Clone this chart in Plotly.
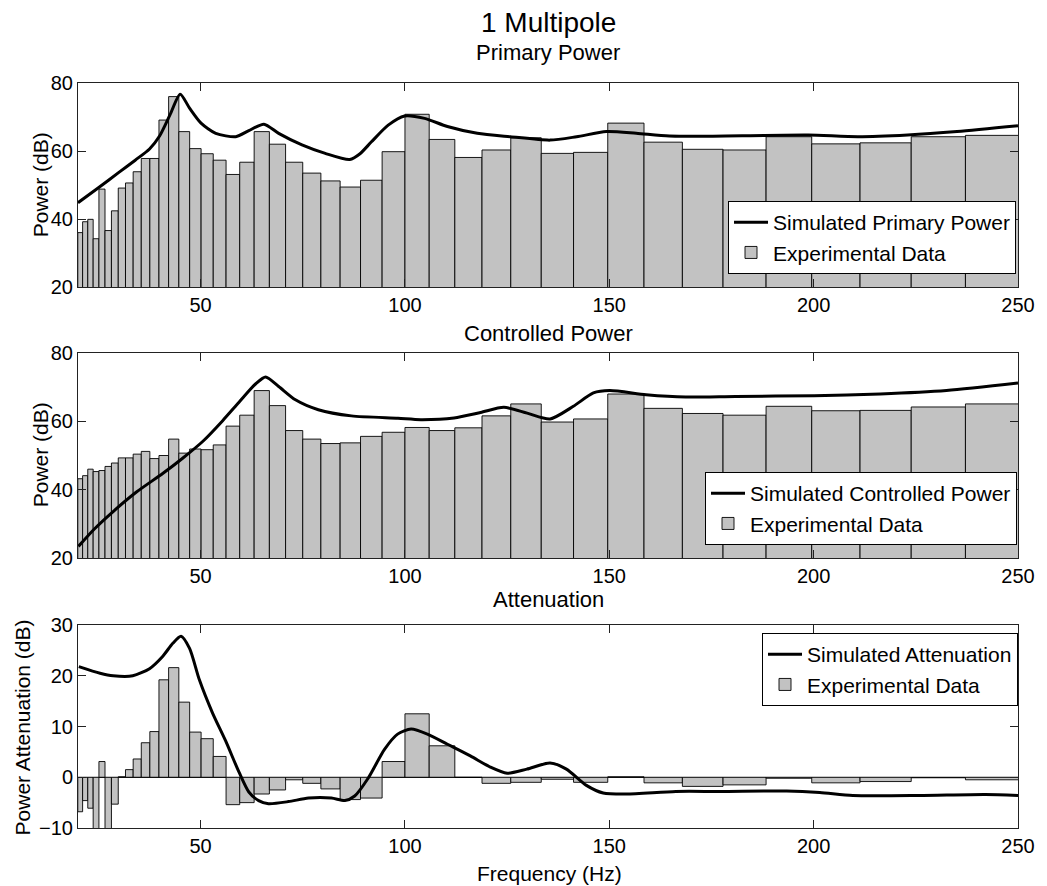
import plotly.graph_objects as go

# 1/12-decade-ish frequency band edges (Hz)
band_edges = [19.95, 21.13, 22.39, 23.71, 25.12, 26.61, 28.18, 29.85, 31.62, 33.50,
              35.48, 37.58, 39.81, 42.17, 44.67, 47.32, 50.12, 53.09, 56.23, 59.57,
              63.10, 66.83, 70.79, 74.99, 79.43, 84.14, 89.13, 94.41, 100.0, 105.93,
              112.20, 118.85, 125.89, 133.35, 141.25, 149.62, 158.49, 167.88, 177.83, 188.36,
              199.53, 211.35, 223.87, 237.14, 251.19]

primary_exp = [36.0, 39.2, 39.9, 34.2, 48.8, 36.6, 42.4, 49.1, 50.6, 53.9,
               57.8, 57.8, 69.1, 76.0, 65.7, 60.7, 59.2, 57.3, 53.1, 56.7,
               65.7, 62.0, 56.7, 53.5, 51.2, 49.4, 51.4, 59.8, 70.8, 63.4,
               58.1, 60.3, 63.9, 59.3, 59.6, 68.2, 62.6, 60.5, 60.3, 64.2,
               62.1, 62.4, 64.2, 64.6]

controlled_exp = [43.2, 44.1, 46.0, 45.3, 45.6, 46.8, 47.8, 49.3, 49.3, 50.4,
                  51.2, 49.1, 50.0, 54.8, 50.7, 51.9, 51.7, 53.1, 58.6, 61.8,
                  69.0, 64.6, 57.3, 54.8, 53.5, 53.7, 55.6, 56.8, 58.2, 57.3,
                  58.1, 61.6, 65.1, 59.8, 60.7, 68.0, 63.8, 62.3, 61.8, 64.4,
                  63.1, 63.2, 64.2, 65.1]

attenuation_exp = [-6.8, -4.6, -6.1, -11.0, 3.1, -10.5, -5.3, 0.1, 1.5, 3.6,
                   6.8, 9.0, 19.2, 21.6, 14.8, 8.9, 7.6, 4.1, -5.4, -5.0,
                   -3.3, -2.5, -0.5, -1.2, -2.3, -4.4, -4.1, 3.1, 12.5, 6.2,
                   0.0, -1.2, -1.0, -0.4, -1.0, 0.1, -1.1, -1.8, -1.5, -0.2,
                   -1.1, -0.85, -0.1, -0.5]

primary_sim_f = [20, 25, 30, 34, 37.5, 40, 42.5, 45, 47.3, 50.1, 53.7, 58.6, 61.8,
                 65.5, 69.1, 74.8, 80.5, 86.5, 89, 91.8, 95.9, 99.9, 104.8, 110.4,
                 117.7, 125.8, 135.5, 142, 149.3, 156.6, 164.7, 182.5, 198.7, 210.8,
                 223, 235.1, 250]
primary_sim_db = [44.8, 49.2, 53.7, 57.3, 60.6, 64.5, 70.6, 76.7, 72.6, 68.2, 65.2, 64.2, 66.0,
                  67.9, 65.2, 61.8, 59.3, 57.5, 59.2, 62.7, 67.6, 70.3, 69.6, 67.2,
                  65.2, 64.2, 63.2, 64.2, 65.7, 65.2, 64.4, 64.5, 64.7, 64.2,
                  64.7, 65.7, 67.4]

controlled_sim_f = [20.1, 24, 28.6, 34.3, 40.8, 45.6, 50.5, 55.4, 59.4, 63.5, 65.9,
                    69.1, 73.2, 78.8, 86.9, 98.3, 103.9, 112, 118.5, 124.2, 129.9,
                    135.5, 141.2, 146.1, 150.1, 159, 168.7, 180.9, 200.1, 216.3, 232.5, 250]
controlled_sim_db = [23.4, 28.5, 33.6, 39.3, 44.8, 49.2, 54.1, 60.2, 65.6, 71.0, 73.0,
                     70.2, 66.3, 63.4, 61.6, 60.9, 60.5, 61.0, 62.6, 64.1, 62.4,
                     60.7, 64.4, 68.3, 69.0, 67.8, 67.1, 67.3, 67.5, 68.0, 69.0, 71.2]

atten_sim_f = [20.2, 25.4, 28.6, 33.4, 37.5, 40.7, 43.2, 45.2, 47.3, 49.7, 52.9, 56.1,
               59.4, 61.8, 64.2, 66.6, 71.5, 76.4, 82, 85.3, 87.7, 90.9, 95, 98.2,
               101.5, 105.5, 110.4, 116, 120.9, 125, 129.8, 135.5, 139.5, 144.4,
               148.5, 154.2, 166.3, 177.2, 193.4, 201.5, 209.6, 225.8, 242, 250]
atten_sim_db = [21.8, 20.5, 20.0, 20.0, 21.4, 23.8, 26.4, 27.8, 25.4, 19.2, 12.7, 7.2,
                1.0, -2.9, -4.6, -5.2, -4.8, -4.1, -4.1, -4.6, -3.7, -0.3, 5.5, 8.5,
                9.5, 8.5, 6.5, 4.2, 2.0, 0.8, 1.6, 2.8, 1.6, -1.6,
                -3.1, -3.3, -2.8, -2.8, -2.7, -3.0, -3.6, -3.6, -3.4, -3.6]

centers = [(a + b) / 2 for a, b in zip(band_edges[:-1], band_edges[1:])]
widths = [b - a for a, b in zip(band_edges[:-1], band_edges[1:])]

W, H = 1047, 886
ML, MR, MT, MB = 78, 22, 83, 58
PH = H - MT - MB
PW = W - ML - MR


def py(px):
    return (H - MB - px) / PH


def pxx(px):
    return (px - ML) / PW


FONT = "Liberation Sans, Arial, Helvetica, sans-serif"
BAR_FILL = "#c2c2c2"

fig = go.Figure()

panels = [
    ("x", "y", "legend", primary_exp, primary_sim_f, primary_sim_db, "Simulated Primary Power"),
    ("x2", "y2", "legend2", controlled_exp, controlled_sim_f, controlled_sim_db, "Simulated Controlled Power"),
    ("x3", "y3", "legend3", attenuation_exp, atten_sim_f, atten_sim_db, "Simulated Attenuation"),
]

for xa, ya, lg, bars, sf, sdb, sname in panels:
    fig.add_trace(go.Bar(x=centers, y=bars, width=widths, xaxis=xa, yaxis=ya,
                         marker=dict(color=BAR_FILL, line=dict(color="black", width=0.9)),
                         name="Experimental Data", legend=lg, legendrank=2))
    fig.add_trace(go.Scatter(x=sf, y=sdb, xaxis=xa, yaxis=ya, mode="lines",
                             line=dict(color="black", width=3, shape="spline", smoothing=0.7),
                             name=sname, legend=lg, legendrank=1))

axis_common = dict(showline=True, linecolor="#222", linewidth=1, mirror="ticks",
                   ticks="inside", ticklen=8, tickcolor="#222", showgrid=False,
                   zeroline=False, tickfont=dict(size=20, color="black", family=FONT))

xticks = dict(range=[20, 250], tickvals=[50, 100, 150, 200, 250], **axis_common)

doms = [(py(287), py(83)), (py(558), py(353)), (0.0, py(625))]

fig.update_layout(
    width=W, height=H,
    margin=dict(l=ML, r=MR, t=MT, b=MB),
    paper_bgcolor="white", plot_bgcolor="white",
    font=dict(family=FONT, color="black"),
    barmode="overlay",
    xaxis=dict(domain=[0, 1], anchor="y", **xticks),
    xaxis2=dict(domain=[0, 1], anchor="y2", **xticks),
    xaxis3=dict(domain=[0, 1], anchor="y3", **xticks),
    yaxis=dict(domain=list(doms[0]), anchor="x", range=[20, 80], tickvals=[20, 40, 60, 80], **axis_common),
    yaxis2=dict(domain=list(doms[1]), anchor="x2", range=[20, 80], tickvals=[20, 40, 60, 80], **axis_common),
    yaxis3=dict(domain=list(doms[2]), anchor="x3", range=[-10, 30], tickvals=[-10, 0, 10, 20, 30],
                **{**axis_common, "zeroline": True}, zerolinecolor="black", zerolinewidth=1),
    showlegend=True,
)

leg_common = dict(bgcolor="white", bordercolor="black", borderwidth=1,
                  font=dict(size=21, family=FONT, color="black"), itemwidth=34,
                  tracegroupgap=0, xanchor="right")
fig.update_layout(
    legend=dict(x=pxx(1023), y=py(274), yanchor="bottom", **leg_common),
    legend2=dict(x=pxx(1024), y=py(545), yanchor="bottom", **leg_common),
    legend3=dict(x=pxx(1025), y=py(633), yanchor="top", **leg_common),
)

annotations = [
    dict(text="1 Multipole", x=pxx(552), y=py(23), font=dict(size=28)),
    dict(text="Primary Power", x=pxx(552), y=py(52), font=dict(size=22)),
    dict(text="Controlled Power", x=pxx(552), y=py(333), font=dict(size=22)),
    dict(text="Attenuation", x=pxx(552), y=py(599), font=dict(size=22)),
    dict(text="Frequency (Hz)", x=pxx(553), y=py(873), font=dict(size=21)),
    dict(text="Power (dB)", x=pxx(40), y=py(185), font=dict(size=21), textangle=-90),
    dict(text="Power (dB)", x=pxx(40), y=py(455), font=dict(size=21), textangle=-90),
    dict(text="Power Attenuation (dB)", x=pxx(22), y=py(727), font=dict(size=21), textangle=-90),
]
for a in annotations:
    fig.add_annotation(xref="paper", yref="paper", showarrow=False,
                       xanchor="center", yanchor="middle",
                       font=dict(family=FONT, color="black", size=a["font"]["size"]),
                       **{k: v for k, v in a.items() if k != "font"})

fig.write_html("out.html")
